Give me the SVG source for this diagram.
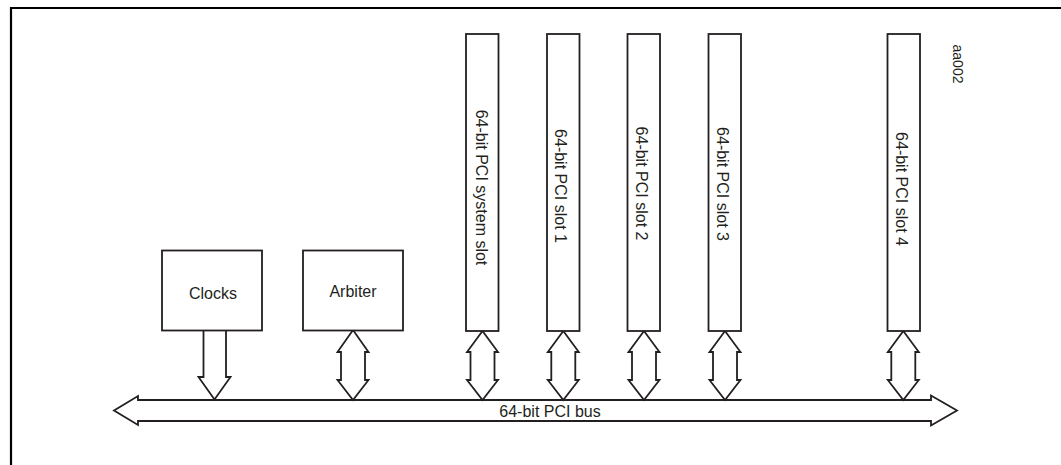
<svg xmlns="http://www.w3.org/2000/svg" width="1061" height="465" viewBox="0 0 1061 465">
<style>
.box{fill:#fff;stroke:#231f20;stroke-width:1.8}
.arr{fill:#fff;stroke:#231f20;stroke-width:1.8;stroke-linejoin:miter}
.t{font-family:"Liberation Sans",Arial,sans-serif;font-size:16px;fill:#231f20}
.frame{fill:none;stroke:#000;stroke-width:2.2}
</style>
<rect width="1061" height="465" fill="#fff"/>
<path class="frame" d="M11,466 V8 H1062"/>
<g id="label-aa002"><text class="t" style="font-size:14px" transform="translate(958,64) rotate(90)" text-anchor="middle" dominant-baseline="central">aa002</text></g>
<g id="connectors">
<polygon id="bus" class="arr" points="114,410.5 138,396 138,400 931,400 931,395.5 957,410.5 931,425.5 931,421 138,421 138,425"/>
<polygon class="arr" points="203.5,330 226,330 226,377 230.5,377 214.5,399.5 198.5,377 203.5,377"/>
<polygon class="arr" points="353,330 368.5,352 365,352 365,380 368.5,380 353,400 337.5,380 341,380 341,352 337.5,352"/>
<polygon class="arr" points="482.5,331 498,352 494.5,352 494.5,380 498,380 482.5,400 467,380 470.5,380 470.5,352 467,352"/>
<polygon class="arr" points="563.3,331 578.8,352 575.3,352 575.3,380 578.8,380 563.3,400 547.8,380 551.3,380 551.3,352 547.8,352"/>
<polygon class="arr" points="644,331 659.5,352 656,352 656,380 659.5,380 644,400 628.5,380 632,380 632,352 628.5,352"/>
<polygon class="arr" points="725,331 740.5,352 737,352 737,380 740.5,380 725,400 709.5,380 713,380 713,352 709.5,352"/>
<polygon class="arr" points="903.3,331 918.8,352 915.3,352 915.3,380 918.8,380 903.3,400 887.8,380 891.3,380 891.3,352 887.8,352"/>
<text class="t" x="550" y="417" text-anchor="middle">64-bit PCI bus</text>
</g>
<g id="clocks"><rect class="box" x="162" y="250.5" width="100" height="80"/><text class="t" x="213" y="299" text-anchor="middle">Clocks</text></g>
<g id="arbiter"><rect class="box" x="303" y="250.5" width="100" height="80"/><text class="t" x="353" y="296.5" text-anchor="middle">Arbiter</text></g>
<g id="system-slot"><rect class="box" x="466" y="34" width="32.5" height="297"/><text class="t" transform="translate(481.5,187.5) rotate(90)" text-anchor="middle" dominant-baseline="central">64-bit PCI system slot</text></g>
<g id="slot1"><rect class="box" x="547" y="34" width="32.5" height="297"/><text class="t" transform="translate(560.5,186) rotate(90)" text-anchor="middle" dominant-baseline="central">64-bit PCI slot 1</text></g>
<g id="slot2"><rect class="box" x="627.5" y="34" width="32.5" height="297"/><text class="t" transform="translate(641.5,183.5) rotate(90)" text-anchor="middle" dominant-baseline="central">64-bit PCI slot 2</text></g>
<g id="slot3"><rect class="box" x="708.5" y="34" width="32.5" height="297"/><text class="t" transform="translate(722.5,184) rotate(90)" text-anchor="middle" dominant-baseline="central">64-bit PCI slot 3</text></g>
<g id="slot4"><rect class="box" x="887.5" y="34" width="32.5" height="297"/><text class="t" transform="translate(901.5,189) rotate(90)" text-anchor="middle" dominant-baseline="central">64-bit PCI slot 4</text></g>
</svg>
